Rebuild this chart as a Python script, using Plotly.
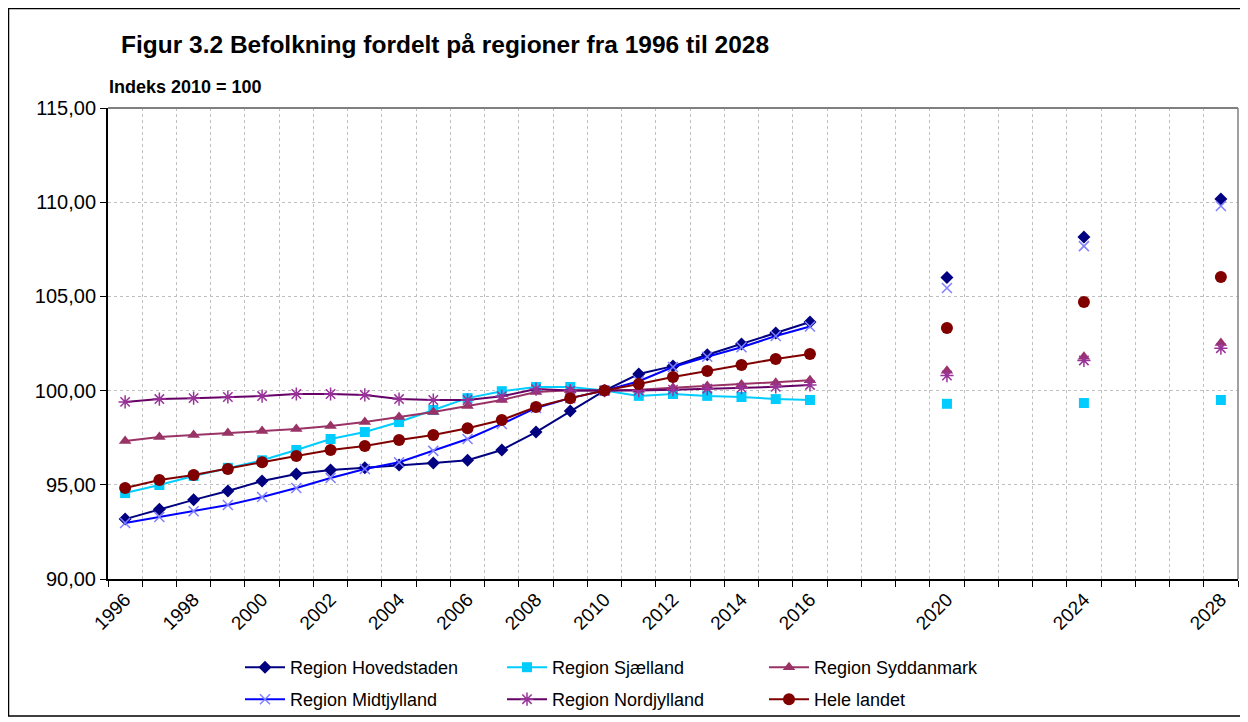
import plotly.graph_objects as go

years_hist = list(range(1996, 2017))
years_proj = [2020, 2024, 2028]

hovedstaden = [93.18, 93.70, 94.20, 94.67, 95.20, 95.57, 95.78, 95.90, 96.05, 96.16, 96.30,
               96.85, 97.80, 98.92, 100.00, 100.88, 101.30, 101.90, 102.47, 103.06, 103.64]
hovedstaden_p = [106.00, 108.15, 110.17]

sjaelland = [94.56, 94.99, 95.47, 95.90, 96.30, 96.85, 97.43, 97.80, 98.33, 98.97, 99.60,
             99.97, 100.19, 100.19, 100.00, 99.72, 99.82, 99.72, 99.66, 99.55, 99.50]
sjaelland_p = [99.30, 99.34, 99.50]

syddanmark = [97.32, 97.54, 97.64, 97.75, 97.85, 97.96, 98.12, 98.33, 98.60, 98.86, 99.18,
              99.50, 99.92, 100.02, 100.00, 100.05, 100.15, 100.25, 100.33, 100.42, 100.55]
syddanmark_p = [101.05, 101.80, 102.53]

midtjylland = [92.97, 93.29, 93.60, 93.93, 94.35, 94.83, 95.36, 95.84, 96.20, 96.80, 97.43,
               98.23, 99.08, 99.60, 100.00, 100.50, 101.25, 101.80, 102.30, 102.90, 103.40]
midtjylland_p = [105.45, 107.67, 109.80]

nordjylland = [99.40, 99.55, 99.60, 99.66, 99.71, 99.82, 99.82, 99.77, 99.55, 99.50, 99.50,
               99.70, 100.08, 100.00, 100.00, 100.00, 100.05, 100.10, 100.15, 100.20, 100.30]
nordjylland_p = [100.80, 101.60, 102.25]

hele_landet = [94.83, 95.25, 95.52, 95.84, 96.20, 96.53, 96.85, 97.06, 97.38, 97.64, 98.00,
               98.44, 99.13, 99.60, 100.00, 100.35, 100.72, 101.04, 101.36, 101.68, 101.94]
hele_landet_p = [103.32, 104.70, 106.03]

series_names = ["Region Hovedstaden", "Region Sjælland", "Region Syddanmark",
                "Region Midtjylland", "Region Nordjylland", "Hele landet"]
x_tick_labels = ["1996", "1998", "2000", "2002", "2004", "2006", "2008", "2010", "2012",
                 "2014", "2016", "2020", "2024", "2028"]
y_ticks = [90, 95, 100, 105, 110, 115]

styles = [
    dict(line="#000080", marker="#000080", symbol="diamond", size=10, lw=0),
    dict(line="#00CCFF", marker="#00CCFF", symbol="square", size=10, lw=0),
    dict(line="#993366", marker="#993366", symbol="triangle-up", size=11, lw=0),
    dict(line="#0000FF", marker="#7F7FFF", symbol="x-thin", size=10, lw=1.5),
    dict(line="#660066", marker="#993399", symbol="asterisk", size=11, lw=1.5),
    dict(line="#800000", marker="#800000", symbol="circle", size=12, lw=0),
]
hist = [hovedstaden, sjaelland, syddanmark, midtjylland, nordjylland, hele_landet]
proj = [hovedstaden_p, sjaelland_p, syddanmark_p, midtjylland_p, nordjylland_p, hele_landet_p]

fig = go.Figure()
for i, (name, st, h, p) in enumerate(zip(series_names, styles, hist, proj)):
    legend = "legend" if i < 3 else "legend2"
    mk = dict(symbol=st["symbol"], size=st["size"], color=st["marker"],
              line=dict(color=st["marker"], width=st["lw"]))
    fig.add_trace(go.Scatter(x=years_hist, y=h, mode="lines+markers", name=name,
                             line=dict(color=st["line"], width=2), marker=mk,
                             legend=legend))
    fig.add_trace(go.Scatter(x=years_proj, y=p, mode="markers", name=name,
                             marker=mk, showlegend=False, legend=legend))

x_tick_vals = [int(t) for t in x_tick_labels]

# page has an 8px body margin: figure coordinates = page coordinates - 8
W, H = 1240, 714
L, T, R, B = 100, 100, 1230, 571  # plot area in figure coords
PW, PH = R - L, B - T

def px(xf):
    return (xf - L) / PW

def py(yf):
    return (B - yf) / PH

fig.update_layout(
    width=W, height=H,
    margin=dict(l=L, r=W - R, t=T, b=H - B, autoexpand=False),
    paper_bgcolor="white", plot_bgcolor="white",
    separators=",.",
    font=dict(family="Liberation Sans, Arial, sans-serif", color="black"),
    showlegend=True,
    legend=dict(orientation="h", x=px(232), y=py(641), xanchor="left", yanchor="top",
                entrywidth=207, entrywidthmode="pixels", font=dict(size=18),
                bgcolor="rgba(0,0,0,0)", itemwidth=40),
    legend2=dict(orientation="h", x=px(232), y=py(673), xanchor="left", yanchor="top",
                 entrywidth=207, entrywidthmode="pixels", font=dict(size=18),
                 bgcolor="rgba(0,0,0,0)", itemwidth=40),
)

fig.update_xaxes(
    range=[1995.5, 2028.5], tickmode="array", tickvals=x_tick_vals, ticktext=x_tick_labels,
    tickangle=-45, tickfont=dict(size=19), ticks="", showgrid=False,
    showline=True, linecolor="black", linewidth=2,
    minor=dict(tickmode="linear", tick0=1995.5, dtick=1, ticks="outside", ticklen=6,
               tickcolor="black", tickwidth=1, showgrid=True, gridcolor="#C0C0C0",
               griddash="3px,3px", gridwidth=1),
    zeroline=False, automargin=False,
)
fig.update_yaxes(
    range=[90, 115], tickmode="array", tickvals=y_ticks, tickformat=".2f",
    tickfont=dict(size=20), ticks="outside", ticklen=6, tickcolor="black",
    showgrid=True, gridcolor="#C0C0C0", griddash="3px,3px", gridwidth=1,
    showline=True, linecolor="black", linewidth=2, zeroline=False, automargin=False,
)

# plot area border (top/right) in gray
fig.add_shape(type="line", xref="paper", yref="paper", x0=0, x1=1, y0=1, y1=1,
              line=dict(color="#808080", width=2))
fig.add_shape(type="line", xref="paper", yref="paper", x0=1, x1=1, y0=0, y1=1,
              line=dict(color="#808080", width=1.5))
# outer chart frame
fig.add_shape(type="rect", xref="paper", yref="paper",
              x0=px(0.5), x1=px(1236), y0=py(708), y1=py(0.5),
              line=dict(color="black", width=1.5))

fig.add_annotation(text="<b>Figur 3.2 Befolkning fordelt på regioner fra 1996 til 2028</b>",
                   xref="paper", yref="paper", x=px(111), y=py(36),
                   xanchor="left", yanchor="middle", showarrow=False,
                   font=dict(size=24.5, color="black"))
fig.add_annotation(text="<b>Indeks 2010 = 100</b>",
                   xref="paper", yref="paper", x=px(99), y=py(79),
                   xanchor="left", yanchor="middle", showarrow=False,
                   font=dict(size=18, color="black"))

fig.write_html("out.html")
